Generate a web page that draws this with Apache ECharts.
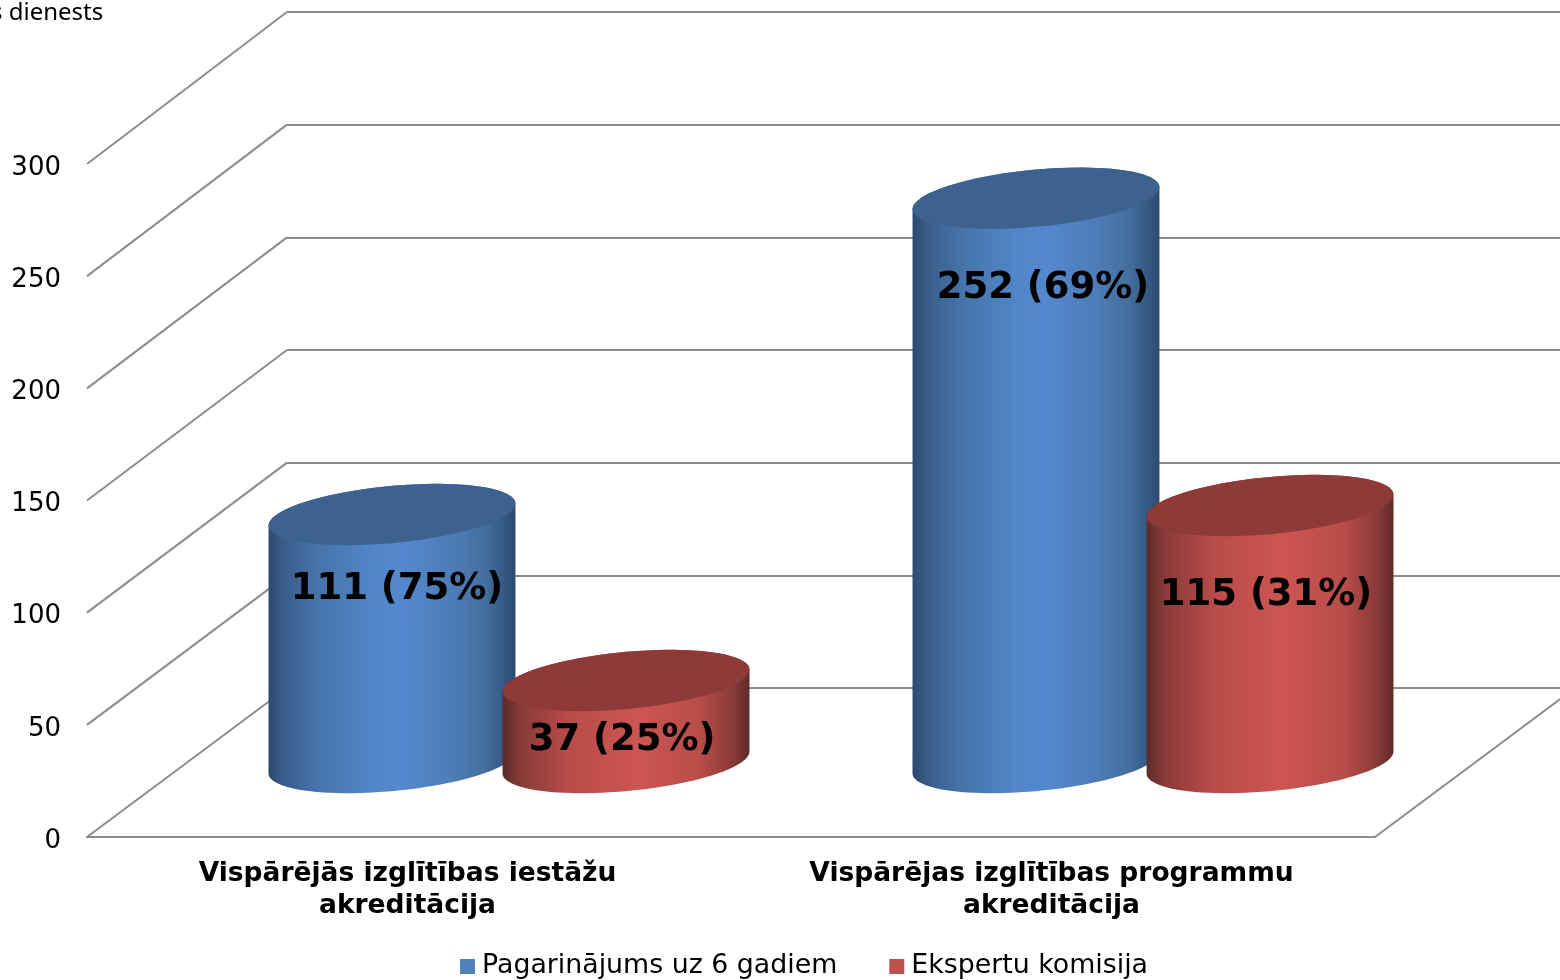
<!DOCTYPE html>
<html>
<head>
<meta charset="utf-8">
<title>Akreditācija</title>
<style>
  html, body { margin: 0; padding: 0; background: #fff; }
  #chart { width: 1560px; height: 980px; }
</style>
<script src="https://cdn.jsdelivr.net/npm/echarts@6/dist/echarts.min.js"></script>
</head>
<body>
<div id="chart"></div>
<script>
const categories = ['Vispārējās izglītības iestāžu\nakreditācija', 'Vispārējas izglītības programmu\nakreditācija'];
const blueValues = [111, 252];
const redValues = [37, 115];
const blueLabels = ['111 (75%)', '252 (69%)'];
const redLabels = ['37 (25%)', '115 (31%)'];
const yTicks = [0, 50, 100, 150, 200, 250, 300];

const FONT = '"DejaVu Sans", Verdana, sans-serif';
const GRID_LINE = '#8c8c8c';
// 3d depth of the floor, back wall is the front plane moved by this much
const DEPTH_X = 200;
const DEPTH_Y = 149;
// back wall is a touch taller than the front plane
const WALL_SCALE = 676 / 673;

const blueStops = [[0, '#2c4a6e'], [0.06, '#3a5c8a'], [0.2, '#4674aa'], [0.42, '#5186c8'], [0.54, '#5488ce'], [0.74, '#4d7cb8'], [0.87, '#44709f'], [0.95, '#365a86'], [1, '#2c4a6e']];
const redStops = [[0, '#5e2a28'], [0.08, '#8a3b39'], [0.27, '#b84c49'], [0.55, '#cd5552'], [0.8, '#b84c49'], [0.93, '#8a3b39'], [1, '#5e2a28']];

function ringPoints(cx, cy, a, from, to) {
  const pts = [];
  const n = 48;
  // sheared ellipse: the left end sits lower than the right end
  const b = a * 0.232;
  const s = a * 0.089;
  for (let i = 0; i <= n; i++) {
    const t = from + (to - from) * i / n;
    pts.push([cx + a * Math.cos(t), cy + b * Math.sin(t) - s * Math.cos(t)]);
  }
  return pts;
}

function cylinderItem(labels, stops, capColor, side, nudges) {
  return function (params, api) {
    const idx = api.value(0);
    const band = api.size([1, 0])[0];
    const front = api.coord([idx, api.value(1)]);
    const base = api.coord([idx, 0]);
    const cx = front[0] + side * band * 0.1817 + DEPTH_X / 2;
    const topY = front[1] - DEPTH_Y / 2 + 1;
    const baseY = base[1] - DEPTH_Y / 2;
    const a = band * 0.1917;
    const body = ringPoints(cx, baseY, a, 0, Math.PI).concat(ringPoints(cx, topY, a, Math.PI, Math.PI * 2));
    return {
      type: 'group',
      children: [
        {
          type: 'polygon',
          shape: { points: body },
          style: {
            fill: new echarts.graphic.LinearGradient(0, 0, 1, 0, stops.map(s => ({ offset: s[0], color: s[1] })))
          }
        },
        {
          type: 'polygon',
          shape: { points: ringPoints(cx, topY, a, 0, Math.PI * 2) },
          style: { fill: capColor }
        },
        {
          type: 'text',
          style: {
            x: cx + nudges[idx][0],
            y: topY + nudges[idx][1],
            text: labels[idx],
            font: 'bold 37px ' + FONT,
            fill: '#000',
            textAlign: 'center',
            textVerticalAlign: 'middle'
          }
        }
      ]
    };
  };
}

// lines on the left wall and the right floor edge
function depthLines(params, api) {
  const y = api.coord([0, api.value(1)])[1];
  const y0 = api.coord([0, 0])[1];
  const x0 = params.coordSys.x;
  const children = [{
    type: 'line',
    shape: { x1: x0, y1: y, x2: x0 + DEPTH_X, y2: y0 - DEPTH_Y - (y0 - y) * WALL_SCALE },
    style: { stroke: GRID_LINE, lineWidth: 2 }
  }];
  if (api.value(1) === 0) {
    const x1 = x0 + params.coordSys.width;
    children.push({
      type: 'line',
      shape: { x1: x1, y1: y, x2: x1 + DEPTH_X, y2: y - DEPTH_Y },
      style: { stroke: GRID_LINE, lineWidth: 2 }
    });
  }
  return { type: 'group', children: children };
}

const chart = echarts.init(document.getElementById('chart'), null, { renderer: 'canvas' });
chart.setOption({
  animation: false,
  backgroundColor: '#fff',
  textStyle: { fontFamily: FONT },
  graphic: [{
    type: 'text',
    left: -9,
    top: 1,
    style: { text: 's dienests', font: '24px "Noto Sans", sans-serif', fill: '#000' }
  }],
  legend: {
    left: 455,
    top: 948,
    itemWidth: 15,
    itemHeight: 15,
    itemGap: 52,
    icon: 'rect',
    data: ['Pagarinājums uz 6 gadiem', 'Ekspertu komisija'],
    textStyle: { fontFamily: FONT, fontSize: 26.8, color: '#000', padding: [0, 0, 0, 2] }
  },
  grid: [
    { left: 87, right: 185, top: 164, bottom: 143 },
    { left: 287, right: 0, top: 12, bottom: 292 }
  ],
  xAxis: [
    {
      type: 'category',
      gridIndex: 0,
      data: categories,
      axisLine: { lineStyle: { color: GRID_LINE, width: 2 } },
      axisTick: { show: false },
      axisLabel: { color: '#000', fontFamily: FONT, fontSize: 26.5, fontWeight: 'bold', lineHeight: 32, margin: 21, interval: 0, padding: [0, 3, 0, 0] }
    },
    { type: 'category', gridIndex: 1, data: categories, show: false }
  ],
  yAxis: [
    {
      type: 'value',
      gridIndex: 0,
      min: 0,
      max: 300,
      interval: 50,
      axisLine: { show: false },
      axisTick: { show: false },
      splitLine: { show: false },
      axisLabel: { color: '#000', fontFamily: FONT, fontSize: 26, margin: 26, verticalAlign: 'top', lineHeight: 8 }
    },
    {
      type: 'value',
      gridIndex: 1,
      min: 0,
      max: 300,
      interval: 50,
      axisLine: { show: false },
      axisTick: { show: false },
      axisLabel: { show: false },
      splitLine: { lineStyle: { color: GRID_LINE, width: 2 } }
    }
  ],
  series: [
    {
      type: 'custom',
      name: 'walls',
      xAxisIndex: 0,
      yAxisIndex: 0,
      silent: true,
      clip: false,
      z: 1,
      data: yTicks.map(v => [0, v]),
      encode: { x: 0, y: 1 },
      renderItem: depthLines
    },
    {
      type: 'custom',
      name: 'Pagarinājums uz 6 gadiem',
      xAxisIndex: 0,
      yAxisIndex: 0,
      clip: false,
      z: 3,
      itemStyle: { color: '#4f81bd' },
      data: blueValues.map((v, i) => [i, v]),
      encode: { x: 0, y: 1 },
      renderItem: cylinderItem(blueLabels, blueStops, '#3e6290', -1, [[5, 75], [7, 90]])
    },
    {
      type: 'custom',
      name: 'Ekspertu komisija',
      xAxisIndex: 0,
      yAxisIndex: 0,
      clip: false,
      z: 4,
      itemStyle: { color: '#c0504d' },
      data: redValues.map((v, i) => [i, v]),
      encode: { x: 0, y: 1 },
      renderItem: cylinderItem(redLabels, redStops, '#8e3a38', 1, [[-4, 60], [-4, 90]])
    }
  ]
});
window.addEventListener('resize', () => chart.resize());
</script>
</body>
</html>
